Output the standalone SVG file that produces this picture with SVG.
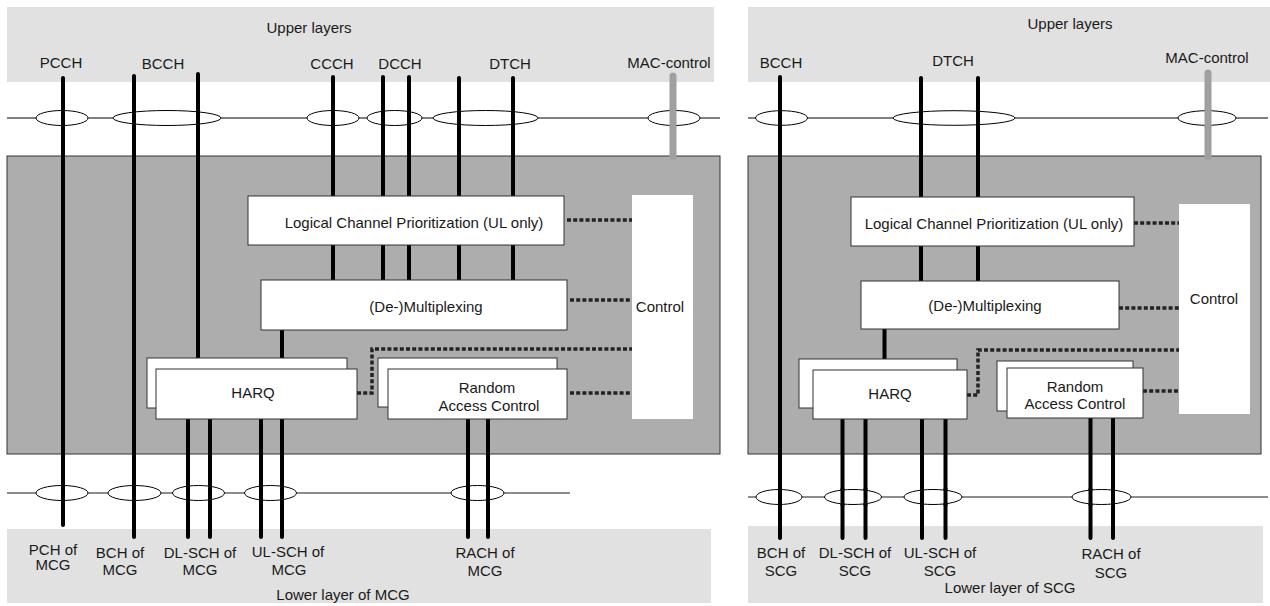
<svg xmlns="http://www.w3.org/2000/svg" width="1270" height="606" viewBox="0 0 1270 606">
<style>
text{font-family:"Liberation Sans",Arial,sans-serif;font-size:15px;fill:#1a1a1a;text-anchor:middle}
.layer{fill:#e1e1e1;stroke:none}
.mac{fill:#adadad;stroke:#333;stroke-width:1}
.box{fill:#fff;stroke:#333;stroke-width:1}
.ctl{fill:#fff;stroke:none}
.ell{fill:#fff;stroke:#000;stroke-width:1}
.bus{stroke:#000;stroke-width:1;fill:none}
.bus2{stroke:#666;stroke-width:1.5;fill:none}
.ch{stroke:#000;stroke-width:4;stroke-linecap:round;fill:none}
.chi{stroke:#000;stroke-width:4;fill:none}
.macc{stroke:#a0a0a0;stroke-width:7;stroke-linecap:round;fill:none}
.dot{stroke:#222;stroke-width:3.5;stroke-dasharray:4 2.2;fill:none}
</style>

<!-- ===== LEFT (MCG) ===== -->
<g id="mcg-upper-layers"><rect class="layer" x="7" y="7" width="707" height="75"/><text x="309" y="33">Upper layers</text></g>
<g id="mcg-lower-layer"><rect class="layer" x="7" y="529" width="704" height="74"/><text x="343" y="600">Lower layer of MCG</text></g>
<g id="mcg-mac"><rect class="mac" x="7" y="156" width="713" height="298"/></g>

<g id="mcg-buses">
<line class="bus" x1="7" y1="118" x2="720" y2="118"/>
<line class="bus2" x1="7" y1="493" x2="570" y2="493"/>
</g>

<g id="mcg-connectors">
<line class="ch" x1="63" y1="78" x2="63" y2="525"/>
<line class="ch" x1="134" y1="76" x2="134" y2="537"/>
<line class="ch" x1="198" y1="74" x2="198" y2="358"/>
<line class="ch" x1="333" y1="77" x2="333" y2="196"/>
<line class="ch" x1="383" y1="77" x2="383" y2="196"/>
<line class="ch" x1="409" y1="77" x2="409" y2="196"/>
<line class="ch" x1="459" y1="78" x2="459" y2="196"/>
<line class="ch" x1="513" y1="78" x2="513" y2="196"/>
<line class="chi" x1="333" y1="245" x2="333" y2="280"/>
<line class="chi" x1="383" y1="245" x2="383" y2="280"/>
<line class="chi" x1="409" y1="245" x2="409" y2="280"/>
<line class="chi" x1="459" y1="245" x2="459" y2="280"/>
<line class="chi" x1="513" y1="245" x2="513" y2="280"/>
<line class="chi" x1="282" y1="330" x2="282" y2="358"/>
<line class="ch" x1="188" y1="419" x2="188" y2="537"/>
<line class="ch" x1="210" y1="419" x2="210" y2="537"/>
<line class="ch" x1="261" y1="419" x2="261" y2="537"/>
<line class="ch" x1="282" y1="419" x2="282" y2="537"/>
<line class="ch" x1="468" y1="419" x2="468" y2="537"/>
<line class="ch" x1="488" y1="419" x2="488" y2="537"/>
<line class="macc" x1="673" y1="76" x2="673" y2="157"/>
<path class="dot" d="M567 220H632M570 300H632M570 393H632M357 393H372V349H632"/>
</g>

<g id="mcg-ellipses">
<ellipse class="ell" cx="62" cy="118" rx="26" ry="7.5"/>
<ellipse class="ell" cx="167" cy="118" rx="54" ry="7.5"/>
<ellipse class="ell" cx="333" cy="118" rx="26" ry="7.5"/>
<ellipse class="ell" cx="394.5" cy="118" rx="27.5" ry="7.5"/>
<ellipse class="ell" cx="485.5" cy="118" rx="52.5" ry="7.5"/>
<ellipse class="ell" cx="674" cy="118" rx="26" ry="7.5"/>
<ellipse class="ell" cx="62" cy="493" rx="26" ry="7.5"/>
<ellipse class="ell" cx="134.5" cy="493" rx="26.5" ry="7.5"/>
<ellipse class="ell" cx="198.5" cy="493" rx="26" ry="7.5"/>
<ellipse class="ell" cx="270.5" cy="493" rx="26" ry="7.5"/>
<ellipse class="ell" cx="477.5" cy="493" rx="26.5" ry="7.5"/>
</g>
<g id="mcg-ellipses-overlay">
<line class="ch" x1="63" y1="110" x2="63" y2="126"/><line class="ch" x1="134" y1="110" x2="134" y2="126"/><line class="ch" x1="198" y1="110" x2="198" y2="126"/>
<line class="ch" x1="333" y1="110" x2="333" y2="126"/><line class="ch" x1="383" y1="110" x2="383" y2="126"/><line class="ch" x1="409" y1="110" x2="409" y2="126"/>
<line class="ch" x1="459" y1="110" x2="459" y2="126"/><line class="ch" x1="513" y1="110" x2="513" y2="126"/><line class="macc" x1="673" y1="110" x2="673" y2="126"/>
<line class="ch" x1="63" y1="485" x2="63" y2="501"/><line class="ch" x1="134" y1="485" x2="134" y2="501"/>
<line class="ch" x1="188" y1="485" x2="188" y2="501"/><line class="ch" x1="210" y1="485" x2="210" y2="501"/>
<line class="ch" x1="261" y1="485" x2="261" y2="501"/><line class="ch" x1="282" y1="485" x2="282" y2="501"/>
<line class="ch" x1="468" y1="485" x2="468" y2="501"/><line class="ch" x1="488" y1="485" x2="488" y2="501"/>
</g>

<g id="mcg-labels">
<text x="61" y="68">PCCH</text><text x="163" y="69">BCCH</text><text x="332" y="69">CCCH</text>
<text x="400" y="69">DCCH</text><text x="510" y="69">DTCH</text><text x="669" y="68">MAC-control</text>
<text x="53" y="555">PCH of</text><text x="53" y="570">MCG</text>
<text x="120" y="558">BCH of</text><text x="120" y="575">MCG</text>
<text x="200" y="558">DL-SCH of</text><text x="200" y="575">MCG</text>
<text x="288" y="557">UL-SCH of</text><text x="289" y="575">MCG</text>
<text x="485" y="558">RACH of</text><text x="485" y="576">MCG</text>
</g>

<g id="mcg-lcp"><rect class="box" x="248" y="196" width="316" height="49"/><text x="414" y="228">Logical Channel Prioritization (UL only)</text></g>
<g id="mcg-mux"><rect class="box" x="261" y="280" width="306" height="50"/><text x="426" y="312">(De-)Multiplexing</text></g>
<g id="mcg-control"><rect class="ctl" x="632" y="195" width="61" height="224"/><text x="660" y="312">Control</text></g>
<g id="mcg-harq"><rect class="box" x="147" y="358" width="200" height="50"/><rect class="box" x="156" y="369" width="201" height="50"/><text x="253" y="398">HARQ</text></g>
<g id="mcg-rac"><rect class="box" x="378" y="358" width="179" height="49"/><rect class="box" x="388" y="369" width="179" height="50"/><text x="487" y="393">Random</text><text x="489" y="411">Access Control</text></g>

<!-- ===== RIGHT (SCG) ===== -->
<g id="scg-upper-layers"><rect class="layer" x="748" y="7" width="522" height="75"/><text x="1070" y="29">Upper layers</text></g>
<g id="scg-lower-layer"><rect class="layer" x="748" y="526" width="515" height="77"/><text x="1010" y="593">Lower layer of SCG</text></g>
<g id="scg-mac"><rect class="mac" x="748" y="156" width="513" height="298"/></g>

<g id="scg-buses">
<line class="bus" x1="748" y1="118" x2="1268" y2="118"/>
<line class="bus2" x1="748" y1="497" x2="1268" y2="497"/>
</g>

<g id="scg-connectors">
<line class="ch" x1="780" y1="77" x2="780" y2="538"/>
<line class="ch" x1="921" y1="78" x2="921" y2="197"/>
<line class="ch" x1="978" y1="78" x2="978" y2="197"/>
<line class="chi" x1="921" y1="246" x2="921" y2="281"/>
<line class="chi" x1="978" y1="246" x2="978" y2="281"/>
<line class="chi" x1="884.5" y1="329" x2="884.5" y2="359"/>
<line class="ch" x1="842.5" y1="419" x2="842.5" y2="538"/>
<line class="ch" x1="865.5" y1="419" x2="865.5" y2="538"/>
<line class="ch" x1="922" y1="419" x2="922" y2="538"/>
<line class="ch" x1="945.5" y1="419" x2="945.5" y2="538"/>
<line class="ch" x1="1090.5" y1="418" x2="1090.5" y2="538"/>
<line class="ch" x1="1113" y1="418" x2="1113" y2="538"/>
<line class="macc" x1="1208" y1="73" x2="1208" y2="157"/>
<path class="dot" d="M1134 223H1179M1119 308H1179M1143 391H1179M967 395H978V350H1179"/>
</g>

<g id="scg-ellipses">
<ellipse class="ell" cx="781.5" cy="118" rx="26" ry="7.3"/>
<ellipse class="ell" cx="954" cy="118" rx="61" ry="7.3"/>
<ellipse class="ell" cx="1207" cy="118" rx="29" ry="7.3"/>
<ellipse class="ell" cx="779" cy="497" rx="23" ry="7.5"/>
<ellipse class="ell" cx="853" cy="497" rx="28.5" ry="7.5"/>
<ellipse class="ell" cx="933" cy="497" rx="29" ry="7.5"/>
<ellipse class="ell" cx="1101.5" cy="497" rx="29.5" ry="7.5"/>
</g>
<g id="scg-ellipses-overlay">
<line class="ch" x1="780" y1="110" x2="780" y2="126"/><line class="ch" x1="921" y1="110" x2="921" y2="126"/><line class="ch" x1="978" y1="110" x2="978" y2="126"/>
<line class="macc" x1="1208" y1="110" x2="1208" y2="126"/>
<line class="ch" x1="780" y1="489" x2="780" y2="505"/>
<line class="ch" x1="842.5" y1="489" x2="842.5" y2="505"/><line class="ch" x1="865.5" y1="489" x2="865.5" y2="505"/>
<line class="ch" x1="922" y1="489" x2="922" y2="505"/><line class="ch" x1="945.5" y1="489" x2="945.5" y2="505"/>
<line class="ch" x1="1090.5" y1="489" x2="1090.5" y2="505"/><line class="ch" x1="1113" y1="489" x2="1113" y2="505"/>
</g>

<g id="scg-labels">
<text x="781" y="68">BCCH</text><text x="953" y="66">DTCH</text><text x="1207" y="63">MAC-control</text>
<text x="781" y="558">BCH of</text><text x="781" y="576">SCG</text>
<text x="855" y="558">DL-SCH of</text><text x="855" y="576">SCG</text>
<text x="940" y="558">UL-SCH of</text><text x="940" y="576">SCG</text>
<text x="1111" y="559">RACH of</text><text x="1111" y="578">SCG</text>
</g>

<g id="scg-lcp"><rect class="box" x="851" y="197" width="283" height="49"/><text x="994" y="229">Logical Channel Prioritization (UL only)</text></g>
<g id="scg-mux"><rect class="box" x="861" y="281" width="258" height="48"/><text x="985" y="311">(De-)Multiplexing</text></g>
<g id="scg-control"><rect class="ctl" x="1179" y="204" width="71" height="210"/><text x="1214" y="304">Control</text></g>
<g id="scg-harq"><rect class="box" x="799" y="359" width="158" height="49"/><rect class="box" x="813" y="370" width="154" height="49"/><text x="890" y="399">HARQ</text></g>
<g id="scg-rac"><rect class="box" x="997" y="361" width="136" height="50"/><rect class="box" x="1007" y="368" width="136" height="50"/><text x="1075" y="392">Random</text><text x="1075" y="409">Access Control</text></g>
</svg>
